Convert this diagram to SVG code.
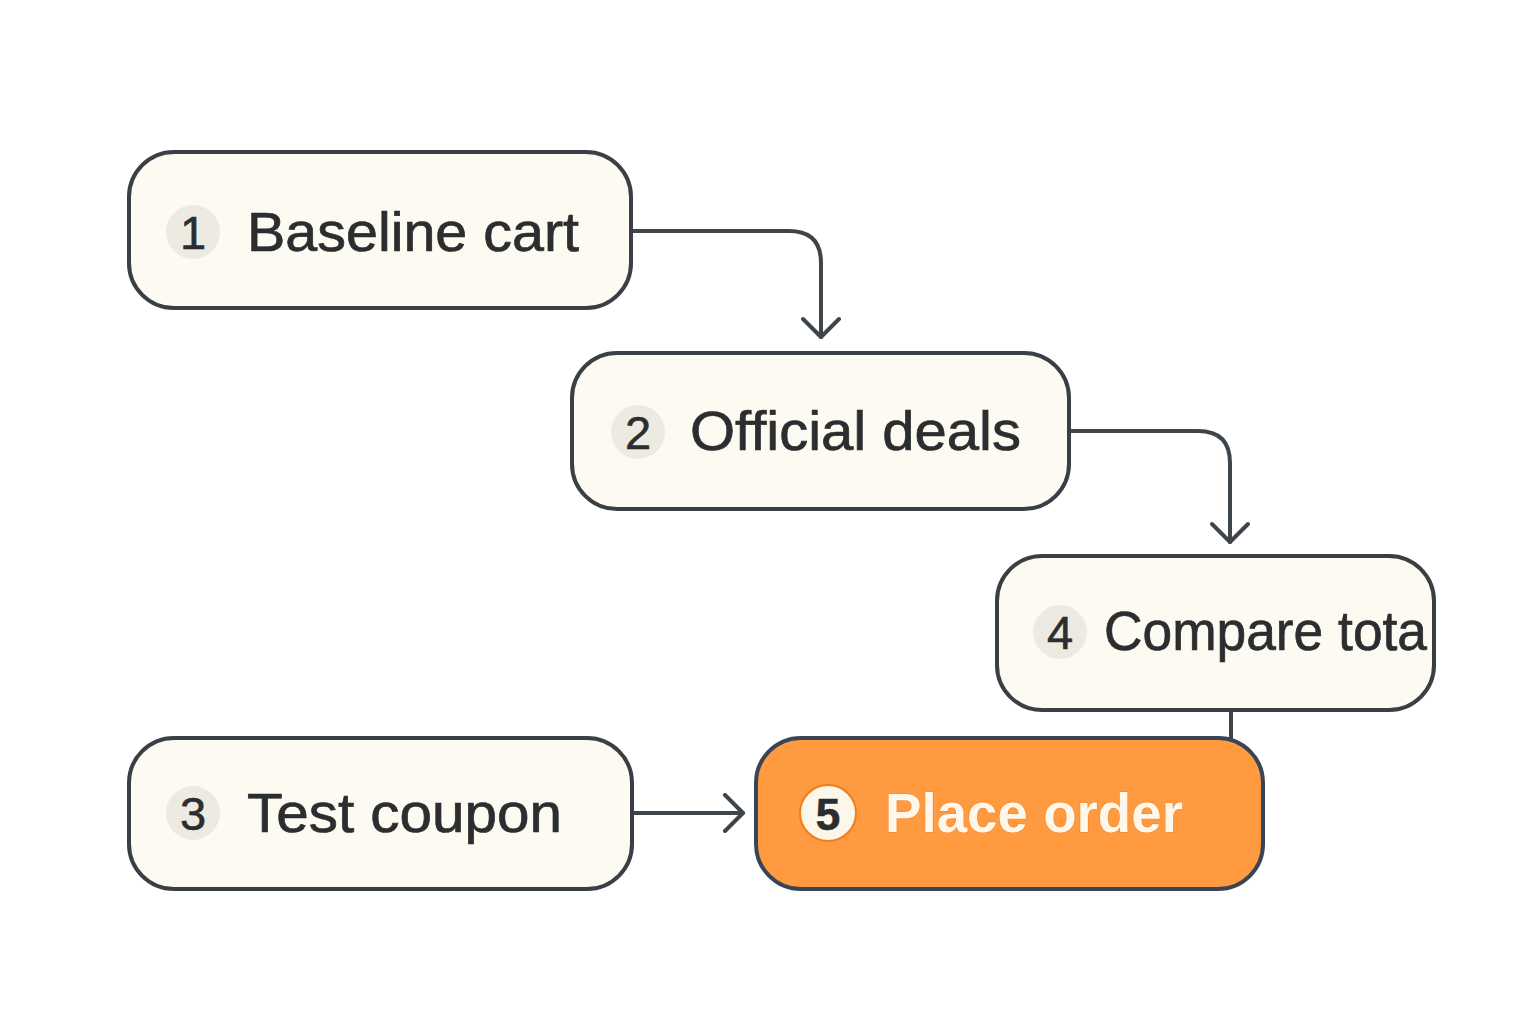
<svg xmlns="http://www.w3.org/2000/svg" width="1536" height="1024" viewBox="0 0 1536 1024">
  <style>
    .box { fill: #FCFAF1; stroke: #3A3F44; stroke-width: 4; }
    .box-hot { fill: #FF9A40; stroke: #394554; stroke-width: 4; }
    .badge { fill: #ECEAE1; }
    .badge-hot { fill: #FDF7EA; stroke: #F07E1E; stroke-width: 2; }
    .num { font-family: "Liberation Sans", Arial, sans-serif; font-size: 47px; fill: #2B2D2F; stroke: #2B2D2F; stroke-width: 0.6; text-anchor: middle; }
    .label { font-family: "Liberation Sans", Arial, sans-serif; font-size: 56px; fill: #2B2D2F; stroke: #2B2D2F; stroke-width: 0.7; }
    .label-hot { font-family: "Liberation Sans", Arial, sans-serif; font-size: 55px; font-weight: bold; fill: #FFF8EA; stroke: #F5842A; stroke-width: 1.2; paint-order: stroke; }
    .wire { fill: none; stroke: #3F464B; stroke-width: 4; stroke-linecap: round; stroke-linejoin: round; }
  </style>
  <defs>
    <marker id="chev" viewBox="0 0 24 40" refX="21" refY="20" markerWidth="24" markerHeight="40" markerUnits="userSpaceOnUse" orient="auto">
      <path d="M3 2 L21 20 L3 38" fill="none" stroke="#3F464B" stroke-width="4" stroke-linecap="round" stroke-linejoin="round"/>
    </marker>
    <clipPath id="clip4">
      <rect x="997" y="556" width="432" height="154" rx="44"/>
    </clipPath>
  </defs>

  <rect width="1536" height="1024" fill="#FFFFFF"/>

  <g id="connectors">
    <path class="wire" d="M631 231 H789 Q821 231 821 263 V337" marker-end="url(#chev)"/>
    <path class="wire" d="M1069 431 H1198 Q1230 431 1230 463 V542" marker-end="url(#chev)"/>
    <path class="wire" d="M1231 711 V739"/>
    <path class="wire" d="M632 813 H743" marker-end="url(#chev)"/>
  </g>

  <g id="node1">
    <rect class="box" x="129" y="152" width="502" height="156" rx="45"/>
    <circle class="badge" cx="193" cy="232" r="27"/>
    <text class="num" x="193" y="249">1</text>
    <text class="label" x="247" y="251" textLength="332" lengthAdjust="spacingAndGlyphs">Baseline cart</text>
  </g>

  <g id="node2">
    <rect class="box" x="572" y="353" width="497" height="156" rx="45"/>
    <circle class="badge" cx="638" cy="432" r="27"/>
    <text class="num" x="638" y="449">2</text>
    <text class="label" x="690" y="450" textLength="331" lengthAdjust="spacingAndGlyphs">Official deals</text>
  </g>

  <g id="node4">
    <rect class="box" x="997" y="556" width="437" height="154" rx="45"/>
    <circle class="badge" cx="1060" cy="632" r="27"/>
    <text class="num" x="1060" y="649">4</text>
    <g clip-path="url(#clip4)">
      <text class="label" x="1104" y="650" textLength="323" lengthAdjust="spacingAndGlyphs">Compare tota</text>
    </g>
  </g>

  <g id="node3">
    <rect class="box" x="129" y="738" width="503" height="151" rx="45"/>
    <circle class="badge" cx="193" cy="813" r="27"/>
    <text class="num" x="193" y="830">3</text>
    <text class="label" x="247" y="832" textLength="315" lengthAdjust="spacingAndGlyphs">Test coupon</text>
  </g>

  <g id="node5">
    <rect class="box-hot" x="756" y="738" width="507" height="151" rx="45"/>
    <circle class="badge-hot" cx="828" cy="813" r="28"/>
    <text class="num" x="828" y="830" style="font-weight:bold;font-size:44px">5</text>
    <text class="label-hot" x="885" y="832" textLength="298" lengthAdjust="spacingAndGlyphs">Place order</text>
  </g>
</svg>
